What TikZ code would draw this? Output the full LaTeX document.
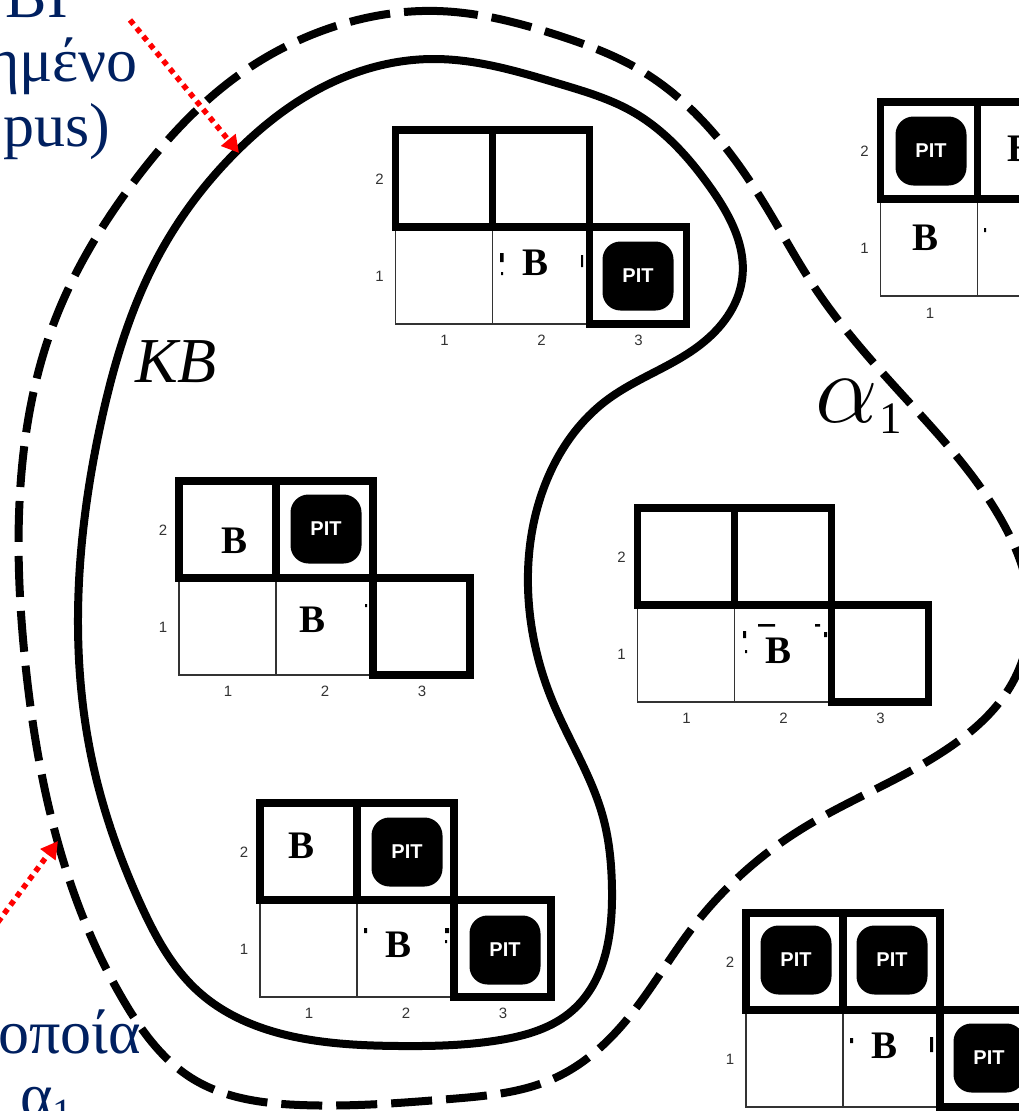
\documentclass[tikz,border=0pt]{standalone}
\usepackage{fontspec}
\setmainfont{Liberation Serif}
\setsansfont{Liberation Sans}
\usetikzlibrary{arrows.meta,hobby}
\definecolor{navy}{HTML}{002060}
\definecolor{axisgray}{HTML}{333333}
\definecolor{thingray}{HTML}{333333}
\tikzset{
  thick cell/.style={draw=black,line width=7.5pt,line join=miter,fill=none},
  thin cell/.style={draw=thingray,line width=1.5pt},
  pitbox/.style={fill=black,rounded corners=18pt,minimum width=71pt,minimum height=69pt,inner sep=0pt,
    text=white,font=\sffamily\bfseries\fontsize{20}{20}\selectfont},
  breeze/.style={font=\bfseries\fontsize{39}{39}\selectfont,inner sep=0pt},
  axis/.style={text=axisgray,font=\sffamily\fontsize{15}{15}\selectfont,inner sep=0pt},
  bigtext/.style={text=navy,font=\fontsize{62}{62}\selectfont,inner sep=0pt,anchor=base east},
  pointer/.style={draw=red,line width=5.5pt,dash pattern=on 5.5pt off 5pt,
    -{Triangle[length=17pt,width=18pt,fill=red]}},
  kbline/.style={draw=black,line width=8pt},
  alphaline/.style={draw=black,line width=8pt,dash pattern=on 41pt off 14pt},
  speck/.style={fill=black,draw=none},
}
\newcommand{\worldbase}[3]{%
  \begin{scope}[shift={(#1,#2)}]
    \draw[thin cell] (0,0) -- (0,97) -- (194,97);
    \draw[thin cell] (97,0) -- (97,97);
    \draw[thick cell] (0,0) rectangle (97,-97);
    \draw[thick cell] (97,0) rectangle (194,-97);
    \node[axis] (#3-r2) at (-16,-48) {2};
    \node[axis] (#3-r1) at (-16,49) {1};
  \end{scope}}
\newcommand{\lowcell}[2]{%
  \begin{scope}[shift={(#1,#2)}]
    \draw[thick cell] (194,0) rectangle (291,97);
  \end{scope}}
\newcommand{\collabels}[3]{%
  \begin{scope}[shift={(#1,#2)}]
    \node[axis] (#3-c1) at (49,113) {1};
    \node[axis] (#3-c2) at (146,113) {2};
    \node[axis] (#3-c3) at (243,113) {3};
  \end{scope}}
\begin{document}
\begin{tikzpicture}[x=1pt,y=-1pt]
\useasboundingbox (0,0) rectangle (1019,1111);

% KB outline
\draw[kbline,use Hobby shortcut,closed=true]
 (433,59) .. (560,84) .. (633,112) .. (710,187) .. (742,280) .. (700,345) .. (607,400)
 .. (543,490) .. (528,587) .. (552,700) .. (603,817) .. (612,890) .. (573,1010) .. (500,1040)
 .. (400,1046) .. (300,1038) .. (200,993) .. (140,903) .. (92,760) .. (78,625) .. (100,427)
 .. (160,253) .. (238,150) .. (333,82);
% alpha_1 outline
\draw[alphaline,use Hobby shortcut,closed=true]
 (437,11) .. (560,36) .. (640,70) .. (765,205) .. (815,288) .. (907,400) .. (1003,523)
 .. (1030,610) .. (1010,687) .. (950,747) .. (800,830) .. (693,927) .. (633,1012) .. (557,1077)
 .. (450,1099) .. (300,1105) .. (193,1079) .. (125,1003) .. (63,860) .. (25,660) .. (20,493)
 .. (55,320) .. (133,183) .. (243,72) .. (333,27);

% worlds
\worldbase{395.5}{227}{wa}\lowcell{395.5}{227}\collabels{395.5}{227}{wa}
\worldbase{179}{578}{wb}\lowcell{179}{578}\collabels{179}{578}{wb}
\worldbase{260}{900}{wc}\lowcell{260}{900}\collabels{260}{900}{wc}
\worldbase{637.5}{605}{wd}\lowcell{637.5}{605}\collabels{637.5}{605}{wd}
\worldbase{880.5}{199}{we}
\node[axis] (we-c1) at (930,313) {1};
\worldbase{746}{1010}{wf}\lowcell{746}{1010}

% remnants around the covered breeze labels
\fill[speck] (758,624) rectangle (775,626.5) (815,624) rectangle (820,626.5)
  (743,631) rectangle (746,638) (824,632) rectangle (827,637) (745,650) rectangle (747,653);
\fill[speck] (364,928) rectangle (367,933) (445,928) rectangle (449,933) (445,940) rectangle (447,943);
\fill[speck] (500,253) rectangle (503.5,262) (501,272) rectangle (503,275) (581,255) rectangle (583,267);
\fill[speck] (850,1038) rectangle (853,1043) (930,1037) rectangle (933,1052);
\fill[speck] (365,604) rectangle (367,607) (984,228) rectangle (986,232);

% pits
\node[pitbox] (pa) at (638,276) {PIT};
\node[pitbox] (pb) at (326,529) {PIT};
\node[pitbox] (pc) at (407,852) {PIT};
\node[pitbox] (pd) at (505,950) {PIT};
\node[pitbox] (pe) at (931,151) {PIT};
\node[pitbox] (pf) at (796,960) {PIT};
\node[pitbox] (pg) at (892,960) {PIT};
\node[pitbox] (ph) at (989,1058) {PIT};

% breezes
\node[breeze] (ba) at (536,263) {B};
\node[breeze] (bb) at (235,541) {B};
\node[breeze] (bc) at (313,620) {B};
\node[breeze] (bd) at (302,846) {B};
\node[breeze] (be) at (399,945) {B};
\node[breeze] (bf) at (778,651) {B};
\node[breeze] (bg) at (925,238) {B};
\node[breeze,anchor=west] (bh) at (1007,149) {B};
\node[breeze] (bi) at (884,1046) {B};

% labels
\node[font=\itshape\fontsize{64}{64}\selectfont,inner sep=0pt,anchor=base west] (kb) at (135,382) {KB};
\node[scale=4,inner sep=0pt,anchor=base west,font=\fontsize{25}{25}\selectfont] (al) at (815,422) {$\alpha$};
\node[font=\fontsize{45}{45}\selectfont,inner sep=0pt,anchor=base] (alone) at (891,433) {1};

\node[bigtext] (ta) at (68,17) {BI};
\node[bigtext] (tb) at (138,81) {ημένο};
\node[bigtext] (tc) at (110,146) {pus)};
\node[bigtext] (td) at (141,1053) {οποία};
\node[bigtext,anchor=base west] (te) at (20,1116) {α\raisebox{-10pt}{\fontsize{40}{40}\selectfont 1}};

% pointers
\coordinate (pa0) at (130,20);
\coordinate (pa1) at (239,153);
\coordinate (pb0) at (-2,922);
\coordinate (pb1) at (58,841);
\draw[pointer] (pa0) -- (pa1);
\draw[pointer] (pb0) -- (pb1);
\end{tikzpicture}
\end{document}
